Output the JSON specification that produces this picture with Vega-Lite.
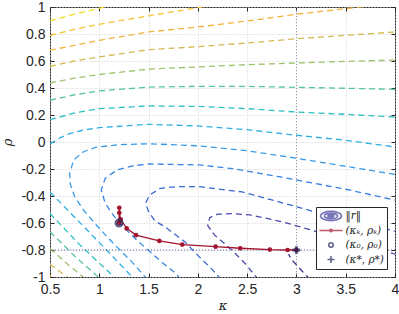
{
  "$schema": "https://vega.github.io/schema/vega-lite/v6.json",
  "width": 345,
  "height": 270,
  "autosize": {"type": "none"},
  "padding": {"left": 50, "top": 7, "right": 4, "bottom": 37},
  "background": "white",
  "config": {
    "view": {"stroke": "#262626", "strokeWidth": 1},
    "axis": {
      "domain": false,
      "labelFont": "Liberation Sans",
      "labelFontSize": 14,
      "labelColor": "#262626",
      "labelFlush": false,
      "labelOverlap": false,
      "tickColor": "#262626",
      "tickSize": -4,
      "tickWidth": 1,
      "gridColor": "#cfcfcf",
      "gridDash": [1, 2],
      "gridWidth": 1,
      "titleFont": "DejaVu Serif",
      "titleFontStyle": "italic",
      "titleFontWeight": "normal",
      "titleFontSize": 13,
      "titleColor": "#262626"
    },
    "legend": {
      "orient": "bottom-right",
      "offset": 8,
      "padding": 3,
      "fillColor": "white",
      "strokeColor": "#262626",
      "symbolSize": 484,
      "symbolStrokeWidth": 1.6,
      "symbolOffset": 0,
      "clipHeight": 12,
      "rowPadding": 2.5,
      "labelOffset": 2.5,
      "labelFont": "DejaVu Serif",
      "labelFontStyle": "italic",
      "labelFontSize": 10.5,
      "labelColor": "#262626"
    }
  },
  "datasets": {
    "contours": [
      {"lev":"L1","seg":"L1a","o":0,"k":0.5,"r":0.897},{"lev":"L1","seg":"L1a","o":1,"k":0.75,"r":0.948},{"lev":"L1","seg":"L1a","o":2,"k":1.0,"r":0.99},{"lev":"L1","seg":"L1a","o":3,"k":1.1,"r":1.01},
      {"lev":"L2","seg":"L2a","o":0,"k":0.5,"r":0.79},{"lev":"L2","seg":"L2a","o":1,"k":0.75,"r":0.835},{"lev":"L2","seg":"L2a","o":2,"k":1.0,"r":0.872},{"lev":"L2","seg":"L2a","o":3,"k":1.5,"r":0.935},{"lev":"L2","seg":"L2a","o":4,"k":1.75,"r":0.965},{"lev":"L2","seg":"L2a","o":5,"k":2.0,"r":0.995},{"lev":"L2","seg":"L2a","o":6,"k":2.1,"r":1.01},
      {"lev":"L3","seg":"L3a","o":0,"k":0.5,"r":0.68},{"lev":"L3","seg":"L3a","o":1,"k":1.0,"r":0.753},{"lev":"L3","seg":"L3a","o":2,"k":1.5,"r":0.815},{"lev":"L3","seg":"L3a","o":3,"k":2.0,"r":0.852},{"lev":"L3","seg":"L3a","o":4,"k":2.5,"r":0.896},{"lev":"L3","seg":"L3a","o":5,"k":3.0,"r":0.946},{"lev":"L3","seg":"L3a","o":6,"k":3.5,"r":0.988},{"lev":"L3","seg":"L3a","o":7,"k":3.7,"r":1.005},
      {"lev":"L3","seg":"L3b","o":0,"k":0.47,"r":-0.965},{"lev":"L3","seg":"L3b","o":1,"k":0.55,"r":-1.025},
      {"lev":"L4","seg":"L4a","o":0,"k":0.5,"r":0.561},{"lev":"L4","seg":"L4a","o":1,"k":0.75,"r":0.6},{"lev":"L4","seg":"L4a","o":2,"k":1.0,"r":0.63},{"lev":"L4","seg":"L4a","o":3,"k":1.5,"r":0.684},{"lev":"L4","seg":"L4a","o":4,"k":2.0,"r":0.706},{"lev":"L4","seg":"L4a","o":5,"k":2.5,"r":0.733},{"lev":"L4","seg":"L4a","o":6,"k":3.0,"r":0.765},{"lev":"L4","seg":"L4a","o":7,"k":3.5,"r":0.79},{"lev":"L4","seg":"L4a","o":8,"k":4.0,"r":0.815},
      {"lev":"L4","seg":"L4b","o":0,"k":0.5,"r":-0.905},{"lev":"L4","seg":"L4b","o":1,"k":0.6,"r":-0.96},{"lev":"L4","seg":"L4b","o":2,"k":0.71,"r":-1.02},
      {"lev":"L5","seg":"L5a","o":0,"k":0.5,"r":0.437},{"lev":"L5","seg":"L5a","o":1,"k":0.75,"r":0.473},{"lev":"L5","seg":"L5a","o":2,"k":1.0,"r":0.5},{"lev":"L5","seg":"L5a","o":3,"k":1.5,"r":0.54},{"lev":"L5","seg":"L5a","o":4,"k":2.0,"r":0.556},{"lev":"L5","seg":"L5a","o":5,"k":2.5,"r":0.573},{"lev":"L5","seg":"L5a","o":6,"k":3.0,"r":0.585},{"lev":"L5","seg":"L5a","o":7,"k":3.5,"r":0.597},{"lev":"L5","seg":"L5a","o":8,"k":4.0,"r":0.607},
      {"lev":"L5","seg":"L5b","o":0,"k":0.5,"r":-0.79},{"lev":"L5","seg":"L5b","o":1,"k":0.68,"r":-0.905},{"lev":"L5","seg":"L5b","o":2,"k":0.87,"r":-1.02},
      {"lev":"L6","seg":"L6a","o":0,"k":0.5,"r":0.309},{"lev":"L6","seg":"L6a","o":1,"k":0.75,"r":0.35},{"lev":"L6","seg":"L6a","o":2,"k":1.0,"r":0.378},{"lev":"L6","seg":"L6a","o":3,"k":1.5,"r":0.407},{"lev":"L6","seg":"L6a","o":4,"k":2.0,"r":0.412},{"lev":"L6","seg":"L6a","o":5,"k":2.5,"r":0.412},{"lev":"L6","seg":"L6a","o":6,"k":3.0,"r":0.405},{"lev":"L6","seg":"L6a","o":7,"k":3.5,"r":0.398},{"lev":"L6","seg":"L6a","o":8,"k":4.0,"r":0.39},
      {"lev":"L6","seg":"L6b","o":0,"k":0.5,"r":-0.665},{"lev":"L6","seg":"L6b","o":1,"k":0.75,"r":-0.845},{"lev":"L6","seg":"L6b","o":2,"k":1.02,"r":-1.02},
      {"lev":"L7","seg":"L7a","o":0,"k":0.5,"r":0.165},{"lev":"L7","seg":"L7a","o":1,"k":0.75,"r":0.215},{"lev":"L7","seg":"L7a","o":2,"k":1.0,"r":0.247},{"lev":"L7","seg":"L7a","o":3,"k":1.5,"r":0.267},{"lev":"L7","seg":"L7a","o":4,"k":2.0,"r":0.264},{"lev":"L7","seg":"L7a","o":5,"k":2.5,"r":0.247},{"lev":"L7","seg":"L7a","o":6,"k":3.0,"r":0.222},{"lev":"L7","seg":"L7a","o":7,"k":3.5,"r":0.205},{"lev":"L7","seg":"L7a","o":8,"k":4.0,"r":0.185},
      {"lev":"L7","seg":"L7b","o":0,"k":0.5,"r":-0.53},{"lev":"L7","seg":"L7b","o":1,"k":0.8,"r":-0.76},{"lev":"L7","seg":"L7b","o":2,"k":1.18,"r":-1.02},
      {"lev":"L8","seg":"L8a","o":0,"k":0.5,"r":-0.015},{"lev":"L8","seg":"L8a","o":1,"k":0.6,"r":0.03},{"lev":"L8","seg":"L8a","o":2,"k":0.7,"r":0.062},{"lev":"L8","seg":"L8a","o":3,"k":0.85,"r":0.09},{"lev":"L8","seg":"L8a","o":4,"k":1.0,"r":0.106},{"lev":"L8","seg":"L8a","o":5,"k":1.5,"r":0.131},{"lev":"L8","seg":"L8a","o":6,"k":2.0,"r":0.119},{"lev":"L8","seg":"L8a","o":7,"k":2.5,"r":0.091},{"lev":"L8","seg":"L8a","o":8,"k":3.0,"r":0.05},{"lev":"L8","seg":"L8a","o":9,"k":3.5,"r":0.013},{"lev":"L8","seg":"L8a","o":10,"k":4.0,"r":-0.037},
      {"lev":"L8","seg":"L8b","o":0,"k":0.5,"r":-0.37},{"lev":"L8","seg":"L8b","o":1,"k":0.7,"r":-0.52},{"lev":"L8","seg":"L8b","o":2,"k":0.9,"r":-0.67},{"lev":"L8","seg":"L8b","o":3,"k":1.1,"r":-0.82},{"lev":"L8","seg":"L8b","o":4,"k":1.36,"r":-1.02},
      {"lev":"L9","seg":"L9a","o":0,"k":1.49,"r":-1.02},{"lev":"L9","seg":"L9a","o":1,"k":1.447,"r":-0.985},{"lev":"L9","seg":"L9a","o":2,"k":1.345,"r":-0.899},{"lev":"L9","seg":"L9a","o":3,"k":1.21,"r":-0.8},{"lev":"L9","seg":"L9a","o":4,"k":1.075,"r":-0.7},{"lev":"L9","seg":"L9a","o":5,"k":0.94,"r":-0.59},{"lev":"L9","seg":"L9a","o":6,"k":0.84,"r":-0.504},{"lev":"L9","seg":"L9a","o":7,"k":0.75,"r":-0.405},{"lev":"L9","seg":"L9a","o":8,"k":0.705,"r":-0.31},{"lev":"L9","seg":"L9a","o":9,"k":0.7,"r":-0.232},{"lev":"L9","seg":"L9a","o":10,"k":0.74,"r":-0.133},{"lev":"L9","seg":"L9a","o":11,"k":0.84,"r":-0.072},{"lev":"L9","seg":"L9a","o":12,"k":0.97,"r":-0.038},{"lev":"L9","seg":"L9a","o":13,"k":1.2,"r":-0.02},{"lev":"L9","seg":"L9a","o":14,"k":1.5,"r":-0.013},{"lev":"L9","seg":"L9a","o":15,"k":2.0,"r":-0.028},{"lev":"L9","seg":"L9a","o":16,"k":2.5,"r":-0.065},{"lev":"L9","seg":"L9a","o":17,"k":3.0,"r":-0.12},{"lev":"L9","seg":"L9a","o":18,"k":3.5,"r":-0.18},{"lev":"L9","seg":"L9a","o":19,"k":4.0,"r":-0.24},
      {"lev":"L10","seg":"L10a","o":0,"k":1.83,"r":-1.02},{"lev":"L10","seg":"L10a","o":1,"k":1.77,"r":-0.97},{"lev":"L10","seg":"L10a","o":2,"k":1.65,"r":-0.9},{"lev":"L10","seg":"L10a","o":3,"k":1.51,"r":-0.81},{"lev":"L10","seg":"L10a","o":4,"k":1.38,"r":-0.726},{"lev":"L10","seg":"L10a","o":5,"k":1.24,"r":-0.627},{"lev":"L10","seg":"L10a","o":6,"k":1.14,"r":-0.54},{"lev":"L10","seg":"L10a","o":7,"k":1.06,"r":-0.454},{"lev":"L10","seg":"L10a","o":8,"k":1.02,"r":-0.356},{"lev":"L10","seg":"L10a","o":9,"k":1.06,"r":-0.269},{"lev":"L10","seg":"L10a","o":10,"k":1.18,"r":-0.207},{"lev":"L10","seg":"L10a","o":11,"k":1.35,"r":-0.175},{"lev":"L10","seg":"L10a","o":12,"k":1.51,"r":-0.163},{"lev":"L10","seg":"L10a","o":13,"k":2.02,"r":-0.17},{"lev":"L10","seg":"L10a","o":14,"k":2.36,"r":-0.198},{"lev":"L10","seg":"L10a","o":15,"k":2.84,"r":-0.259},{"lev":"L10","seg":"L10a","o":16,"k":3.5,"r":-0.35},{"lev":"L10","seg":"L10a","o":17,"k":4.0,"r":-0.43},
      {"lev":"L11","seg":"L11a","o":0,"k":2.24,"r":-1.02},{"lev":"L11","seg":"L11a","o":1,"k":2.14,"r":-0.94},{"lev":"L11","seg":"L11a","o":2,"k":2.0,"r":-0.84},{"lev":"L11","seg":"L11a","o":3,"k":1.87,"r":-0.74},{"lev":"L11","seg":"L11a","o":4,"k":1.67,"r":-0.63},{"lev":"L11","seg":"L11a","o":5,"k":1.565,"r":-0.585},{"lev":"L11","seg":"L11a","o":6,"k":1.5,"r":-0.516},{"lev":"L11","seg":"L11a","o":7,"k":1.47,"r":-0.454},{"lev":"L11","seg":"L11a","o":8,"k":1.51,"r":-0.393},{"lev":"L11","seg":"L11a","o":9,"k":1.62,"r":-0.343},{"lev":"L11","seg":"L11a","o":10,"k":1.8,"r":-0.33},{"lev":"L11","seg":"L11a","o":11,"k":2.02,"r":-0.331},{"lev":"L11","seg":"L11a","o":12,"k":2.45,"r":-0.37},{"lev":"L11","seg":"L11a","o":13,"k":2.83,"r":-0.445},{"lev":"L11","seg":"L11a","o":14,"k":3.2,"r":-0.52},{"lev":"L11","seg":"L11a","o":15,"k":3.6,"r":-0.59},{"lev":"L11","seg":"L11a","o":16,"k":4.0,"r":-0.66},
      {"lev":"L12","seg":"L12a","o":0,"k":2.62,"r":-1.02},{"lev":"L12","seg":"L12a","o":1,"k":2.58,"r":-0.99},{"lev":"L12","seg":"L12a","o":2,"k":2.48,"r":-0.9},{"lev":"L12","seg":"L12a","o":3,"k":2.33,"r":-0.79},{"lev":"L12","seg":"L12a","o":4,"k":2.17,"r":-0.69},{"lev":"L12","seg":"L12a","o":5,"k":2.1,"r":-0.62},{"lev":"L12","seg":"L12a","o":6,"k":2.12,"r":-0.56},{"lev":"L12","seg":"L12a","o":7,"k":2.2,"r":-0.535},{"lev":"L12","seg":"L12a","o":8,"k":2.35,"r":-0.53},{"lev":"L12","seg":"L12a","o":9,"k":2.53,"r":-0.54},{"lev":"L12","seg":"L12a","o":10,"k":2.85,"r":-0.59},{"lev":"L12","seg":"L12a","o":11,"k":3.14,"r":-0.65},{"lev":"L12","seg":"L12a","o":12,"k":3.5,"r":-0.73},{"lev":"L12","seg":"L12a","o":13,"k":4.0,"r":-0.83},
      {"lev":"L13","seg":"L13a","o":0,"k":3.14,"r":-1.02},{"lev":"L13","seg":"L13a","o":1,"k":3.05,"r":-0.95},{"lev":"L13","seg":"L13a","o":2,"k":2.95,"r":-0.87},{"lev":"L13","seg":"L13a","o":3,"k":2.92,"r":-0.83}
    ],
    "path": [
      {"o":0,"k":1.2,"r":-0.6},{"o":1,"k":1.203,"r":-0.487},{"o":2,"k":1.203,"r":-0.524},{"o":3,"k":1.217,"r":-0.573},{"o":4,"k":1.278,"r":-0.64},{"o":5,"k":1.372,"r":-0.69},{"o":6,"k":1.609,"r":-0.733},{"o":7,"k":1.842,"r":-0.76},{"o":8,"k":2.18,"r":-0.775},{"o":9,"k":2.43,"r":-0.787},{"o":10,"k":2.73,"r":-0.797},{"o":11,"k":2.91,"r":-0.8},{"o":12,"k":3.0,"r":-0.8}
    ],
    "series": [
      {"series": "‖r‖"},{"series": "(κₖ, ρₖ)"},{"series": "(κ₀, ρ₀)"},{"series": "(κ*, ρ*)"}
    ]
  },
  "layer": [
    {
      "data": {"name": "contours"},
      "mark": {"type": "line", "strokeDash": [6, 4], "strokeWidth": 1.3, "clip": true},
      "encoding": {
        "x": {"field": "k", "type": "quantitative", "scale": {"domain": [0.5, 4], "nice": false, "zero": false},
              "axis": {"orient": "bottom", "values": [0.5,1,1.5,2,2.5,3,3.5,4], "labelExpr": "'' + datum.value", "labelPadding": 9, "title": "κ", "titlePadding": 3, "grid": true}},
        "y": {"field": "r", "type": "quantitative", "scale": {"domain": [-1, 1], "nice": false, "zero": false},
              "axis": {"orient": "left", "values": [-1,-0.8,-0.6,-0.4,-0.2,0,0.2,0.4,0.6,0.8,1], "labelExpr": "'' + datum.value", "labelPadding": 9, "title": "ρ", "titlePadding": 6, "grid": true}},
        "detail": {"field": "seg", "type": "nominal"},
        "order": {"field": "o", "type": "quantitative"},
        "stroke": {"field": "lev", "type": "nominal", "legend": null,
                   "scale": {"domain": ["L1","L2","L3","L4","L5","L6","L7","L8","L9","L10","L11","L12","L13"],
                             "range": ["#f0de1e","#f8c431","#f2b23c","#d4b94f","#9cc36b","#55c69b","#2bbfc2","#2fb0e0","#3a9ce8","#3584e4","#3a67d4","#4a4bb0","#3a3290"]}}
      }
    },
    {
      "data": {"values": [{"k": 3}]},
      "mark": {"type": "rule", "color": "#8e8ea6", "strokeDash": [1, 2], "strokeWidth": 1},
      "encoding": {
        "x": {"field": "k", "type": "quantitative", "scale": {"domain": [0.5, 4], "nice": false, "zero": false}, "axis": null}
      }
    },
    {
      "data": {"values": [{"r": -0.8}]},
      "mark": {"type": "rule", "color": "#5e5e9e", "strokeDash": [1, 2], "strokeWidth": 1},
      "encoding": {
        "y": {"field": "r", "type": "quantitative", "scale": {"domain": [-1, 1], "nice": false, "zero": false}, "axis": null}
      }
    },
    {
      "data": {"name": "path"},
      "mark": {"type": "line", "color": "#a2142f", "strokeWidth": 1.3, "point": {"filled": true, "size": 22, "color": "#a2142f"}},
      "encoding": {
        "x": {"field": "k", "type": "quantitative", "scale": {"domain": [0.5, 4], "nice": false, "zero": false},
              "axis": {"orient": "top", "values": [0.5,1,1.5,2,2.5,3,3.5,4], "labels": false, "grid": false, "title": null}},
        "y": {"field": "r", "type": "quantitative", "scale": {"domain": [-1, 1], "nice": false, "zero": false},
              "axis": {"orient": "right", "values": [-1,-0.8,-0.6,-0.4,-0.2,0,0.2,0.4,0.6,0.8,1], "labels": false, "grid": false, "title": null}},
        "order": {"field": "o", "type": "quantitative"}
      }
    },
    {
      "data": {"values": [{"k": 1.2, "r": -0.6}]},
      "mark": {"type": "point", "filled": false, "size": 40, "strokeWidth": 2.6, "color": "#1e1e5a"},
      "encoding": {
        "x": {"field": "k", "type": "quantitative", "scale": {"domain": [0.5, 4], "nice": false, "zero": false}, "axis": null},
        "y": {"field": "r", "type": "quantitative", "scale": {"domain": [-1, 1], "nice": false, "zero": false}, "axis": null}
      }
    },
    {
      "data": {"values": [{"k": 3, "r": -0.8}]},
      "mark": {"type": "point", "shape": "cross", "filled": true, "size": 60, "color": "#1e1e5a"},
      "encoding": {
        "x": {"field": "k", "type": "quantitative", "scale": {"domain": [0.5, 4], "nice": false, "zero": false}, "axis": null},
        "y": {"field": "r", "type": "quantitative", "scale": {"domain": [-1, 1], "nice": false, "zero": false}, "axis": null}
      }
    },
    {
      "data": {"name": "series"},
      "transform": [{"filter": "false"}],
      "mark": {"type": "point", "filled": false},
      "encoding": {
        "color": {"field": "series", "type": "nominal",
                  "scale": {"domain": ["‖r‖", "(κₖ, ρₖ)", "(κ₀, ρ₀)", "(κ*, ρ*)"], "range": ["#3e3a9c", "#a2142f", "#1e1e5a", "#1e1e5a"]},
                  "legend": {"title": null}},
        "shape": {"field": "series", "type": "nominal",
                  "scale": {"domain": ["‖r‖", "(κₖ, ρₖ)", "(κ₀, ρ₀)", "(κ*, ρ*)"],
                            "range": ["M-0.95,0A0.95,0.42 0 1,0 0.95,0A0.95,0.42 0 1,0 -0.95,0ZM-0.6,0A0.6,0.24 0 1,0 0.6,0A0.6,0.24 0 1,0 -0.6,0ZM-0.28,0A0.28,0.08 0 1,0 0.28,0A0.28,0.08 0 1,0 -0.28,0Z",
                                      "M-1.05,0H1.05M0.1,0A0.1,0.1 0 1,1 -0.1,0A0.1,0.1 0 1,1 0.1,0Z",
                                      "M0.2,0A0.2,0.2 0 1,1 -0.2,0A0.2,0.2 0 1,1 0.2,0Z",
                                      "M-0.32,0H0.32M0,-0.32V0.32"]},
                  "legend": {"title": null}}
      }
    }
  ],
  "resolve": {"axis": {"x": "independent", "y": "independent"}}
}
